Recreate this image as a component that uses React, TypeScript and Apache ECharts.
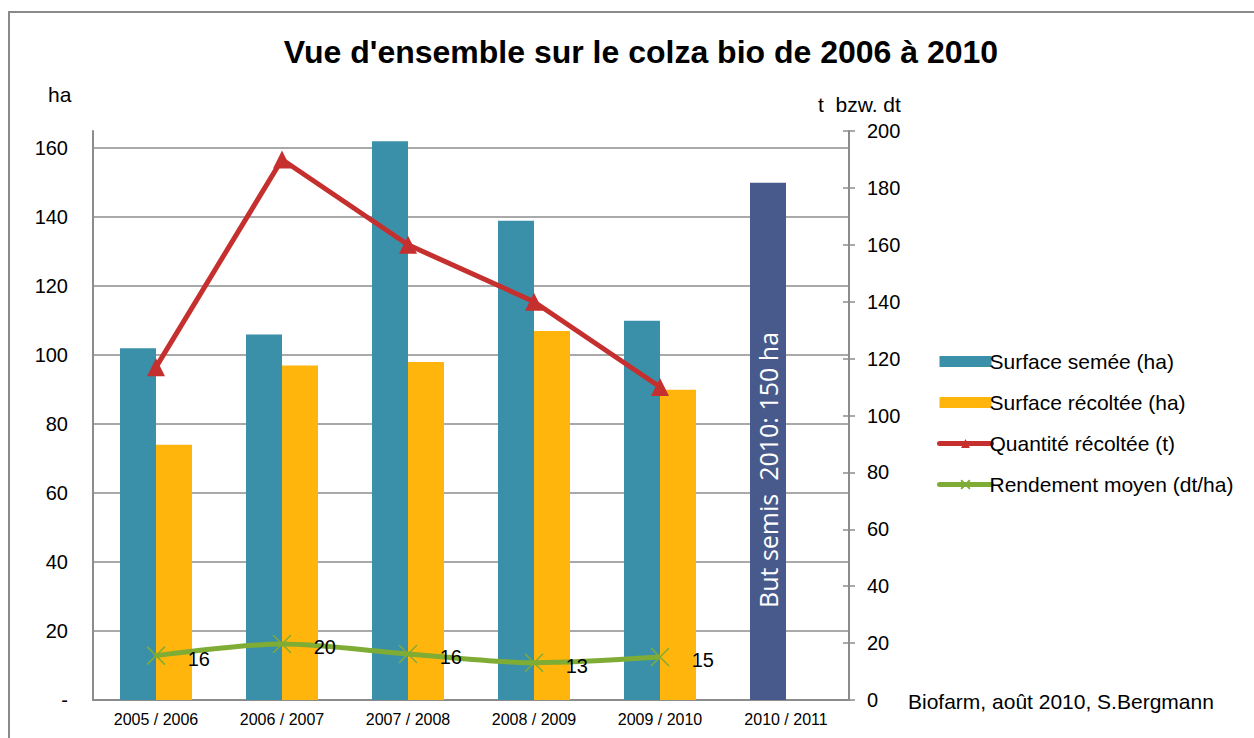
import React, { useEffect, useRef } from "react";
import * as echarts from "echarts";

const categories = ["2005 / 2006", "2006 / 2007", "2007 / 2008", "2008 / 2009", "2009 / 2010", "2010 / 2011"];
const surfaceSemee = [102, 106, 162, 139, 110, 150];
const surfaceRecoltee = [74, 97, 98, 107, 90, null];
const quantiteRecoltee = [117, 190, 160, 140, 110, null];
const rendementMoyen = [15.6, 19.7, 16.2, 13.1, 15.1, null];
const leftTicksMax = 165;
const rightTicksMax = 200;

const FONT = "'Liberation Sans', Arial, sans-serif";
const GRID = "#8c8c8c";

export default function App() {
  const ref = useRef<HTMLDivElement>(null);
  useEffect(() => {
    if (!ref.current) return;
    const chart = echarts.init(ref.current, undefined, { renderer: "svg" });
    const semeeData = surfaceSemee.map((v, i) =>
      i === surfaceSemee.length - 1
        ? {
            value: v,
            itemStyle: { color: "#485a8c" },
            label: {
              show: true,
              formatter: "But semis  2010: 150 ha",
              position: "insideBottom",
              rotate: 90,
              align: "left",
              verticalAlign: "middle",
              distance: 92,
              color: "#ffffff",
              fontSize: 25,
              fontFamily: "'Open Sans', 'Noto Sans', sans-serif",
            },
          }
        : v
    );
    chart.setOption({
      animation: false,
      backgroundColor: "#ffffff",
      textStyle: { fontFamily: FONT },
      title: {
        text: "Vue d'ensemble sur le colza bio de 2006 à 2010",
        left: 636,
        textAlign: "center",
        top: 31,
        textStyle: { fontFamily: FONT, fontSize: 32, fontWeight: "bold", color: "#000" },
      },
      graphic: [
        { type: "rect", shape: { x: 9, y: 12, width: 1400, height: 900 }, style: { fill: "none", stroke: "#8a8a8a", lineWidth: 2 }, silent: true },
        { type: "text", left: 48, top: 84, style: { text: "ha", fontSize: 21, fontFamily: FONT, fill: "#000" } },
        { type: "text", left: 818, top: 94, style: { text: "t  bzw. dt", fontSize: 21, fontFamily: FONT, fill: "#000" } },
        { type: "text", left: 908, top: 691, style: { text: "Biofarm, août 2010, S.Bergmann", fontSize: 21, fontFamily: FONT, fill: "#000" } },
      ],
      legend: {
        orient: "vertical",
        left: 932,
        top: 346,
        itemWidth: 52,
        itemHeight: 11,
        itemGap: 20,
        textStyle: { fontSize: 21, color: "#000", fontFamily: FONT, padding: [0, 0, 0, -7] },
        data: [
          { name: "Surface semée (ha)", icon: "rect" },
          { name: "Surface récoltée (ha)", icon: "rect" },
          { name: "Quantité récoltée (t)", lineStyle: { width: 5, cap: "round" } },
          { name: "Rendement moyen (dt/ha)", lineStyle: { width: 5, cap: "round" } },
        ],
      },
      grid: { left: 93, right: 405, top: 131, bottom: 38 },
      xAxis: {
        type: "category",
        data: categories,
        axisLine: { lineStyle: { color: GRID, width: 2 } },
        axisTick: { show: false },
        axisLabel: { fontSize: 16, color: "#000", margin: 11, fontFamily: FONT },
      },
      yAxis: [
        {
          type: "value",
          min: 0,
          max: leftTicksMax,
          interval: 20,
          position: "left",
          axisLine: { show: true, lineStyle: { color: GRID, width: 2 } },
          axisTick: { show: false },
          axisLabel: {
            fontSize: 20,
            color: "#000",
            margin: 25,
            fontFamily: FONT,
            formatter: (v: number) => (v === 0 ? "-" : v > 160 ? "" : String(v)),
          },
          splitLine: { show: true, showMinLine: false, showMaxLine: false, lineStyle: { color: GRID, width: 1.5 } },
        },
        {
          type: "value",
          min: 0,
          max: rightTicksMax,
          interval: 20,
          position: "right",
          axisLine: { show: true, lineStyle: { color: GRID, width: 2 } },
          axisTick: { show: true, length: 6, lineStyle: { color: GRID, width: 1.5 } },
          axisLabel: { fontSize: 20, color: "#000", margin: 18, fontFamily: FONT },
          splitLine: { show: false },
        },
        {
          type: "value",
          min: 0,
          max: rightTicksMax,
          interval: 20,
          position: "right",
          axisLine: { show: false },
          axisTick: { show: true, inside: true, length: 6, lineStyle: { color: GRID, width: 1.5 } },
          axisLabel: { show: false },
          splitLine: { show: false },
        },
      ],
      series: [
        {
          name: "Surface semée (ha)",
          type: "bar",
          yAxisIndex: 0,
          data: semeeData,
          barWidth: 36,
          barGap: "0%",
          itemStyle: { color: "#3a90a8" },
        },
        {
          name: "Surface récoltée (ha)",
          type: "bar",
          yAxisIndex: 0,
          data: surfaceRecoltee,
          barWidth: 36,
          barGap: "0%",
          itemStyle: { color: "#ffb50c" },
        },
        {
          name: "Quantité récoltée (t)",
          type: "line",
          yAxisIndex: 1,
          data: quantiteRecoltee,
          symbol: "triangle",
          symbolSize: 18,
          itemStyle: { color: "#c5302f" },
          lineStyle: { color: "#c5302f", width: 5 },
          z: 5,
        },
        {
          name: "Rendement moyen (dt/ha)",
          type: "line",
          yAxisIndex: 1,
          data: rendementMoyen,
          smooth: 0.3,
          symbol: "path://M0,0L10,10M10,0L0,10",
          symbolSize: 18,
          itemStyle: { color: "#7fac35", borderColor: "#7fac35", borderWidth: 1.5 },
          lineStyle: { color: "#7fac35", width: 5 },
          label: {
            show: true,
            position: "right",
            distance: 22,
            offset: [0, 3],
            fontSize: 20,
            color: "#000",
            fontFamily: FONT,
            formatter: (p: any) => String(Math.round(p.value)),
          },
          z: 6,
        },
      ],
    });
    return () => chart.dispose();
  }, []);
  return <div ref={ref} style={{ position: "fixed", left: 0, top: 0, width: 1254, height: 738 }} />;
}
